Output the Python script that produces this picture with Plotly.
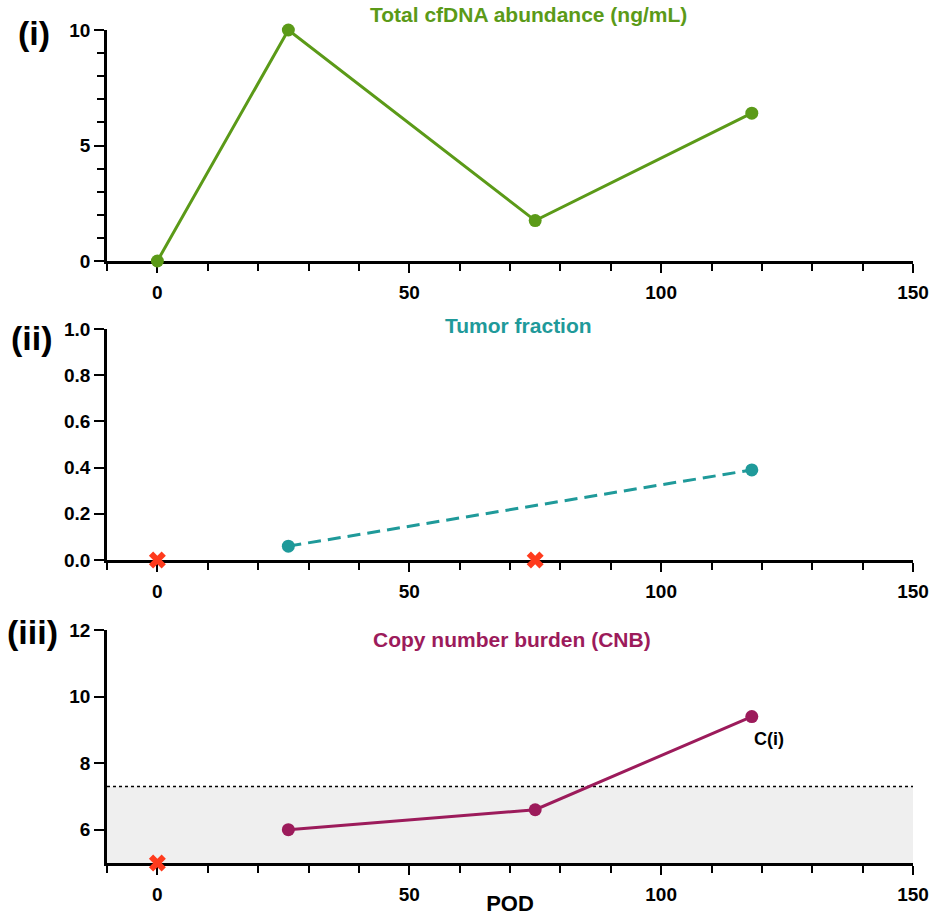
import plotly.graph_objects as go

# ---------------- data ----------------
pod = [0, 26, 75, 118]
cfdna = [0.0, 10.0, 1.75, 6.4]

tf_pod = [26, 118]
tf_val = [0.06, 0.39]
tf_fail_pod = [0, 75]
tf_fail_val = [0.0, 0.0]

cnb_pod = [26, 75, 118]
cnb_val = [6.0, 6.6, 9.4]
cnb_fail_pod = [0]
cnb_fail_val = [5.0]
cnb_threshold = 7.3
cnb_floor = 5.0

x_ticks = [0, 50, 100, 150]
x_tick_labels = ["0", "50", "100", "150"]
y1_ticks = [0, 5, 10]
y2_ticks = [0.0, 0.2, 0.4, 0.6, 0.8, 1.0]
y3_ticks = [6, 8, 10, 12]

titles = ["Total cfDNA abundance (ng/mL)", "Tumor fraction", "Copy number burden (CNB)"]
panel_labels = ["(i)", "(ii)", "(iii)"]

# ---------------- style ----------------
W, H = 940, 916
GREEN = "#5b9a18"
TEAL = "#1f9a9a"
MAROON = "#9c1b5b"
RED = "#ff3b1d"
FONT = "Liberation Sans, Arial, Helvetica, sans-serif"

def py(p):  # pixel (from top) -> paper y
    return 1 - p / H

def px(p):
    return p / W

xdom = [px(107), px(913)]
ydoms = [[py(261), py(30)], [py(560), py(329)], [py(863), py(630)]]

fig = go.Figure()

fig.add_trace(go.Scatter(x=pod, y=cfdna, mode="lines+markers", xaxis="x", yaxis="y",
                         line=dict(color=GREEN, width=3), marker=dict(color=GREEN, size=13),
                         cliponaxis=False, showlegend=False))

fig.add_trace(go.Scatter(x=tf_pod, y=tf_val, mode="lines+markers", xaxis="x2", yaxis="y2",
                         line=dict(color=TEAL, width=3, dash="13px,7px"),
                         marker=dict(color=TEAL, size=13), cliponaxis=False, showlegend=False))
fig.add_trace(go.Scatter(x=tf_fail_pod, y=tf_fail_val, mode="markers", xaxis="x2", yaxis="y2",
                         marker=dict(color=RED, size=15, symbol="x", line=dict(width=0)),
                         cliponaxis=False, showlegend=False))

fig.add_trace(go.Scatter(x=cnb_pod, y=cnb_val, mode="lines+markers", xaxis="x3", yaxis="y3",
                         line=dict(color=MAROON, width=3), marker=dict(color=MAROON, size=13),
                         cliponaxis=False, showlegend=False))
fig.add_trace(go.Scatter(x=cnb_fail_pod, y=cnb_fail_val, mode="markers", xaxis="x3", yaxis="y3",
                         marker=dict(color=RED, size=15, symbol="x", line=dict(width=0)),
                         cliponaxis=False, showlegend=False))

tickfont = dict(family=FONT, size=19, color="black", weight="bold")

def xaxis_cfg(anchor):
    return dict(domain=xdom, anchor=anchor, range=[-10, 150], showgrid=False, zeroline=False,
                automargin=False,
                showline=True, linecolor="black", linewidth=2.5, ticks="outside", ticklen=9,
                tickwidth=2, tickcolor="black", tickvals=x_ticks, ticktext=x_tick_labels,
                tickfont=tickfont, ticklabelstandoff=3, layer="below traces",
                minor=dict(dtick=10, tick0=0, ticks="outside", ticklen=7, tickwidth=2,
                           tickcolor="black", showgrid=False))

def yaxis_cfg(anchor, dom, rng, ticks, fmt=None, minor=None):
    d = dict(domain=dom, anchor=anchor, range=rng, showgrid=False, zeroline=False,
             automargin=False,
             showline=True, linecolor="black", linewidth=2.5, ticks="outside", ticklen=10,
             tickwidth=2, tickcolor="black", tickvals=ticks, tickfont=tickfont,
             ticklabelstandoff=0, layer="below traces")
    if fmt:
        d["tickformat"] = fmt
    if minor:
        d["minor"] = minor
    return d

fig.update_layout(
    template="none",
    width=W, height=H, margin=dict(l=0, r=0, t=0, b=0, pad=0, autoexpand=False),
    paper_bgcolor="white", plot_bgcolor="white",
    font=dict(family=FONT, color="black"),
    xaxis=xaxis_cfg("y"),
    xaxis2=xaxis_cfg("y2"),
    xaxis3=dict(**xaxis_cfg("y3"),
                title=dict(text="POD", font=dict(family=FONT, size=22, color="black", weight="bold"),
                           standoff=6)),
    yaxis=yaxis_cfg("x", ydoms[0], [0, 10], y1_ticks,
                    minor=dict(dtick=1, tick0=0, ticks="outside", ticklen=7, tickwidth=2,
                               tickcolor="black", showgrid=False)),
    yaxis2=yaxis_cfg("x2", ydoms[1], [0, 1], y2_ticks, fmt=".1f"),
    yaxis3=yaxis_cfg("x3", ydoms[2], [5, 12], y3_ticks),
)

# shaded normal range and threshold line for CNB
fig.add_shape(type="rect", xref="x3", yref="y3", x0=-10, x1=150, y0=cnb_floor, y1=cnb_threshold,
              fillcolor="#efefef", line=dict(width=0), layer="below")
fig.add_shape(type="line", xref="x3", yref="y3", x0=-10, x1=150, y0=cnb_threshold, y1=cnb_threshold,
              line=dict(color="black", width=1.5, dash="dot"), layer="below")

# titles
title_pos = [(528, 15), (518, 325), (512, 639)]
title_colors = [GREEN, TEAL, MAROON]
for t, (tx, ty), c in zip(titles, title_pos, title_colors):
    fig.add_annotation(text=t, x=px(tx), y=py(ty), xref="paper", yref="paper", showarrow=False,
                       xanchor="center", yanchor="middle",
                       font=dict(family=FONT, size=21, color=c, weight="bold"))

# panel labels
label_pos = [(34, 33), (32, 338), (32, 632)]
for t, (lx, ly) in zip(panel_labels, label_pos):
    fig.add_annotation(text=t, x=px(lx), y=py(ly), xref="paper", yref="paper", showarrow=False,
                       xanchor="center", yanchor="middle",
                       font=dict(family=FONT, size=34, color="black", weight="bold"))

# point label
fig.add_annotation(text="C(i)", x=cnb_pod[-1], y=cnb_val[-1], xref="x3", yref="y3", showarrow=False,
                   xanchor="center", yanchor="middle", xshift=17, yshift=-22,
                   font=dict(family=FONT, size=18, color="black", weight="bold"))

fig.write_html("out.html", config={"displayModeBar": False},
               post_script="document.body.style.margin='0';document.body.style.overflow='hidden';")
